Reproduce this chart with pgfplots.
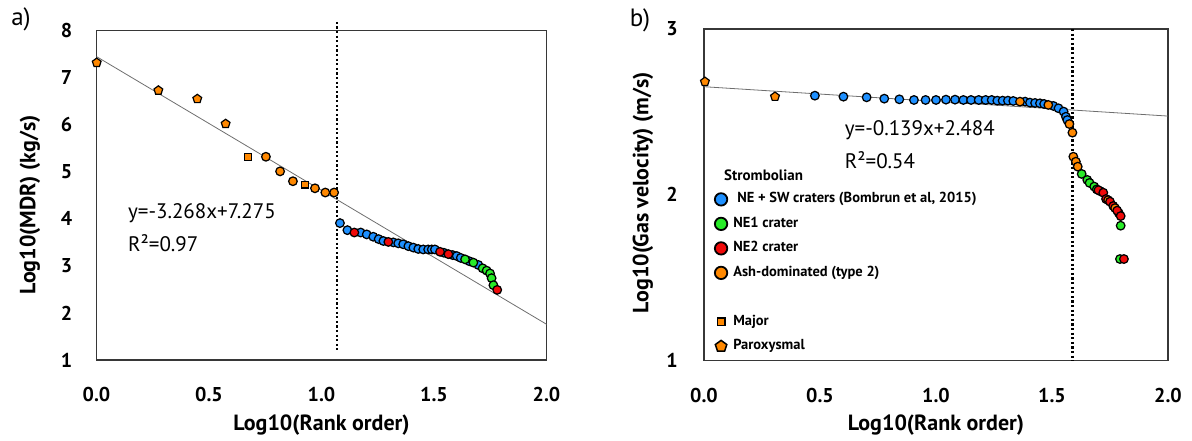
\documentclass[border=0pt]{standalone}
\usepackage{fontspec}
\setmainfont{PT Sans}
\usepackage{pgfplots}
\pgfplotsset{compat=1.18}
\definecolor{cblue}{RGB}{30,144,255}
\definecolor{corange}{RGB}{255,136,0}
\definecolor{cgreen}{RGB}{40,235,40}
\definecolor{cred}{RGB}{240,10,10}
\definecolor{trend}{RGB}{110,110,110}
\definecolor{framec}{RGB}{55,55,55}
\pgfplotsset{
  myaxis/.style={
    scale only axis, clip=false,
    axis line style={framec, line width=1.6pt},
    major tick length=0pt, tick style={draw=none},
    xmin=0, xmax=2, xtick={0,0.5,1,1.5,2},
    xticklabels={0.0,0.5,1.0,1.5,2.0},
    /pgf/number format/assume math mode=true,
    ticklabel style={font=\fontsize{20}{20}\selectfont\bfseries},
    xticklabel style={anchor=center, yshift=-35pt},
    label style={font=\fontsize{22}{22}\selectfont\bfseries},
    xlabel={Log10(Rank order)},
  },
  dot/.style={only marks, mark=*, mark size=4.3pt, mark options={draw=black, line width=1.25pt, fill=#1}},
  pent/.style={only marks, mark=pentagon*, mark size=4.6pt, mark options={draw=black, line width=1.2pt, fill=corange}},
  sq/.style={only marks, mark=square*, mark size=3.4pt, mark options={draw=black, line width=1.2pt, fill=corange}},
  trendline/.style={no marks, draw=trend, line width=0.8pt},
  vline/.style={no marks, draw=black, line width=2.2pt, dash pattern=on 2.3pt off 2.3pt},
}
\begin{document}
\begin{tikzpicture}
\useasboundingbox (0,0) rectangle (1192pt,441pt);
\node[font=\fontsize{25}{25}\selectfont] at (21pt,422pt) {a)};
\node[font=\fontsize{25}{25}\selectfont] at (640pt,421pt) {b)};

% ---------------- panel a ----------------
\begin{axis}[myaxis, at={(96.5pt,81pt)}, anchor=south west,
  width=450pt, height=329.3pt, ymin=1, ymax=8, ytick={1,2,3,4,5,6,7,8},
  yticklabel style={anchor=center, xshift=-30pt},
  ylabel={Log10(MDR) (kg/s)},
  ylabel style={at={(-0.1478,0.4707)}, anchor=center},
  xlabel style={at={(0.5,-0.197)}, anchor=center}]
\addplot[trendline, forget plot] coordinates {(0,7.45) (2,1.76)};
\addplot[vline, forget plot] coordinates {(1.07,8.19) (1.07,1.21)};
\addplot[pent, forget plot] coordinates {(0.001,7.32) (0.275,6.73) (0.448,6.55) (0.574,6.02)};
\addplot[sq, forget plot] coordinates {(0.672,5.32) (0.927,4.73)};
\addplot[dot=corange, forget plot] coordinates {(0.753,5.32) (0.816,5.01) (0.873,4.80) (0.971,4.65) (1.017,4.56) (1.056,4.56)};
\addplot[dot=cblue, forget plot] coordinates {
(1.082,3.91) (1.115,3.76) (1.174,3.71) (1.201,3.67) (1.230,3.62) (1.254,3.57)
(1.275,3.53) (1.319,3.50) (1.341,3.48) (1.363,3.46) (1.386,3.42) (1.408,3.39)
(1.430,3.36) (1.452,3.35) (1.474,3.35) (1.490,3.35) (1.504,3.35) (1.544,3.28) (1.583,3.23)
(1.601,3.21) (1.619,3.17) (1.657,3.10) (1.697,3.02)};
\addplot[dot=cred, forget plot] coordinates {(1.146,3.71) (1.297,3.51) (1.527,3.30) (1.564,3.25)};
\addplot[dot=cgreen, forget plot] coordinates {(1.638,3.14) (1.675,3.07) (1.716,2.95) (1.734,2.90) (1.749,2.84) (1.756,2.74) (1.764,2.59)};
\addplot[dot=cred, forget plot] coordinates {(1.781,2.49)};
\node[anchor=west, font=\fontsize{21}{21}\selectfont] at (axis cs:0.125,4.12) {y=-3.268x+7.275};
\node[anchor=west, font=\fontsize{21}{21}\selectfont] at (axis cs:0.125,3.48) {R²=0.97};
\end{axis}

% ---------------- panel b ----------------
\begin{axis}[myaxis, at={(704pt,80.3pt)}, anchor=south west,
  width=464pt, height=331.7pt, ymin=1, ymax=3, ytick={1,2,3},
  yticklabel style={anchor=center, xshift=-32pt},
  ylabel={Log10(Gas velocity) (m/s)},
  ylabel style={at={(-0.1315,0.507)}, anchor=center},
  xlabel style={at={(0.5,-0.194)}, anchor=center},
  legend style={at={(axis cs:0.046,2.016)}, anchor=north west, draw=none, fill=none,
    inner sep=0pt, row sep=10.5pt, column sep=6pt,
    font=\fontsize{14.5}{14.5}\selectfont\bfseries,
    nodes={inner sep=0pt, text height=10.5pt, text depth=3.5pt}},
  legend cell align=left,
  legend image code/.code={\draw[#1] plot coordinates {(0pt,0pt)};}]
\addlegendimage{only marks, mark=*, mark size=6.2pt, mark options={draw=black, line width=1.8pt, fill=cblue}}
\addlegendentry{\hspace*{4pt}NE + SW craters (Bombrun et al, 2015)}
\addlegendimage{only marks, mark=*, mark size=6.2pt, mark options={draw=black, line width=1.8pt, fill=cgreen}}
\addlegendentry{NE1 crater}
\addlegendimage{only marks, mark=*, mark size=6.2pt, mark options={draw=black, line width=1.8pt, fill=cred}}
\addlegendentry{NE2 crater}
\addlegendimage{only marks, mark=*, mark size=6.2pt, mark options={draw=black, line width=1.8pt, fill=corange}}
\addlegendentry{Ash-dominated (type 2)}
\addlegendimage{empty legend}
\addlegendentry{}
\addlegendimage{only marks, mark=square*, mark size=3.8pt, mark options={draw=black, line width=1.5pt, fill=corange}}
\addlegendentry{Major}
\addlegendimage{only marks, mark=pentagon*, mark size=6pt, mark options={draw=black, line width=1.5pt, fill=corange}}
\addlegendentry{Paroxysmal}
\addplot[trendline, forget plot] coordinates {(0,2.652) (2,2.475)};
\addplot[vline, forget plot] coordinates {(1.588,3.0) (1.588,1.0)};
\addplot[pent, forget plot] coordinates {(0.004,2.682) (0.306,2.592)};
\addplot[dot=cblue, forget plot] coordinates {
(0.478,2.598) (0.601,2.592) (0.701,2.588) (0.777,2.580) (0.842,2.576) (0.905,2.572)
(0.955,2.572) (1.000,2.572) (1.043,2.574) (1.082,2.574) (1.118,2.572) (1.151,2.572)
(1.184,2.572) (1.214,2.572) (1.240,2.572) (1.264,2.568) (1.287,2.568) (1.310,2.568)
(1.333,2.566) (1.384,2.562) (1.405,2.556) (1.427,2.554) (1.448,2.552) (1.466,2.548)
(1.506,2.536) (1.528,2.522) (1.550,2.502) (1.560,2.471) (1.566,2.451)};
\addplot[dot=corange, forget plot] coordinates {(1.362,2.562) (1.484,2.542) (1.575,2.427) (1.588,2.375)
(1.592,2.230) (1.603,2.200) (1.611,2.170)};
\addplot[dot=cgreen, forget plot] coordinates {(1.628,2.126) (1.652,2.090) (1.662,2.072) (1.682,2.050) (1.693,2.033) (1.708,2.022) (1.793,1.613)};
\addplot[dot=cred, forget plot] coordinates {(1.700,2.028) (1.721,2.013) (1.733,1.975)};
\addplot[dot=corange, forget plot] coordinates {(1.742,1.968)};
\addplot[dot=cred, forget plot] coordinates {(1.750,1.959) (1.764,1.933)};
\addplot[dot=corange, forget plot] coordinates {(1.772,1.920) (1.788,1.890)};
\addplot[dot=cred, forget plot] coordinates {(1.781,1.905) (1.796,1.872) (1.810,1.613)};
\addplot[dot=cgreen, forget plot] coordinates {(1.796,1.814)};
\node[anchor=west, font=\fontsize{21}{21}\selectfont] at (axis cs:0.592,2.391) {y=-0.139x+2.484};
\node[anchor=west, font=\fontsize{21}{21}\selectfont] at (axis cs:0.592,2.210) {R²=0.54};
\node[anchor=west, font=\fontsize{15}{15}\selectfont\bfseries] at (axis cs:0.072,2.120) {Strombolian};
\end{axis}
\end{tikzpicture}
\end{document}
